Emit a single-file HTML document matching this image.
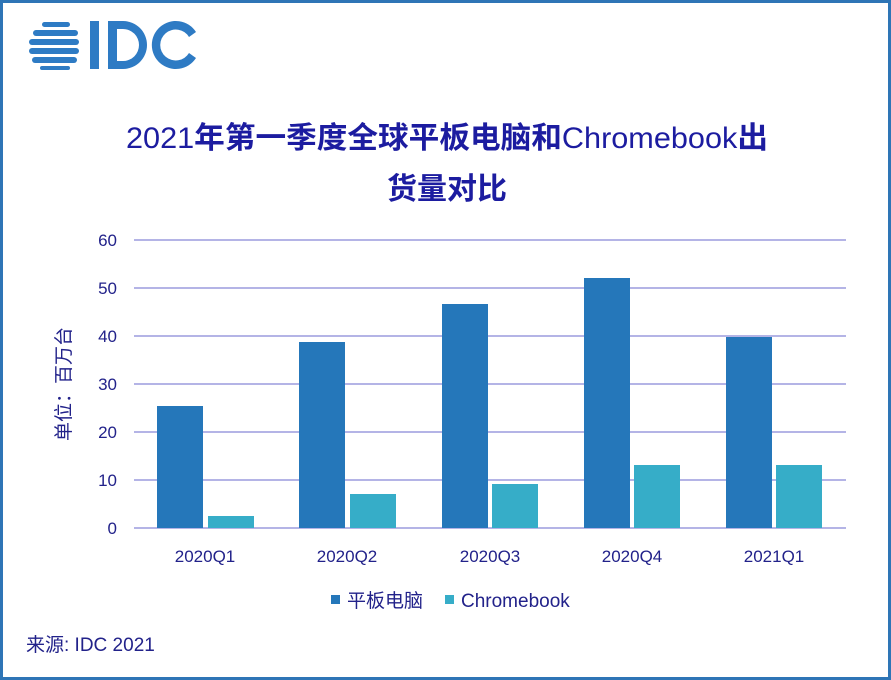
<!DOCTYPE html>
<html><head><meta charset="utf-8"><style>
html,body{margin:0;padding:0;background:#fff;}
svg{display:block;}
text{font-family:"Liberation Sans","Noto Sans CJK SC",sans-serif;}
</style></head><body>
<svg width="891" height="680" viewBox="0 0 891 680" xmlns="http://www.w3.org/2000/svg">
<rect x="1.5" y="1.5" width="888" height="677" fill="#fff" stroke="#2E75B6" stroke-width="3"/>
<g fill="#2E7BC4">
<rect x="42" y="22" width="28" height="5" rx="2.5"/>
<rect x="33" y="30" width="45" height="6" rx="3"/>
<rect x="29" y="39" width="50" height="6" rx="3"/>
<rect x="29" y="48" width="50" height="6" rx="3"/>
<rect x="32" y="57" width="45" height="6" rx="3"/>
<rect x="40" y="66" width="30" height="4" rx="2"/>
<rect x="90" y="21" width="9" height="48"/>
<path d="M108 21h15a24 24 0 0 1 0 48h-15zM117 29v32h6a16 16 0 0 0 0-32z" fill-rule="evenodd"/>
<path d="M196 32a24 24 0 1 0 0 26l-7-5a15.5 15.5 0 1 1 0-16z"/>
</g>
<text x="447" y="148" text-anchor="middle" font-size="30" fill="#1C1CA0" textLength="642" lengthAdjust="spacingAndGlyphs"><tspan>2021</tspan><tspan font-weight="bold">年第一季度全球平板电脑和</tspan><tspan>Chromebook</tspan><tspan font-weight="bold">出</tspan></text>
<text x="447" y="199" text-anchor="middle" font-size="30" font-weight="bold" fill="#1C1CA0">货量对比</text>
<g stroke="#B4B4E6" stroke-width="2">
<line x1="134" y1="240" x2="846" y2="240"/><line x1="134" y1="288" x2="846" y2="288"/>
<line x1="134" y1="336" x2="846" y2="336"/><line x1="134" y1="384" x2="846" y2="384"/>
<line x1="134" y1="432" x2="846" y2="432"/><line x1="134" y1="480" x2="846" y2="480"/>
<line x1="134" y1="528" x2="846" y2="528"/>
</g>
<g font-size="17" fill="#22228A" text-anchor="end">
<text x="117" y="246">60</text><text x="117" y="294">50</text><text x="117" y="342">40</text>
<text x="117" y="390">30</text><text x="117" y="438">20</text><text x="117" y="486">10</text>
<text x="117" y="534">0</text>
</g>
<text transform="translate(70,384) rotate(-90)" text-anchor="middle" font-size="19" fill="#22228A">单位：百万台</text>
<g fill="#2577BA">
<rect x="157" y="406" width="46" height="122"/>
<rect x="299" y="342" width="46" height="186"/>
<rect x="442" y="304" width="46" height="224"/>
<rect x="584" y="278" width="46" height="250"/>
<rect x="726" y="337" width="46" height="191"/>
</g>
<g fill="#36ADC8">
<rect x="208" y="516" width="46" height="12"/>
<rect x="350" y="494" width="46" height="34"/>
<rect x="492" y="484" width="46" height="44"/>
<rect x="634" y="465" width="46" height="63"/>
<rect x="776" y="465" width="46" height="63"/>
</g>
<g font-size="17" fill="#22228A" text-anchor="middle">
<text x="205" y="562">2020Q1</text><text x="347" y="562">2020Q2</text><text x="490" y="562">2020Q3</text>
<text x="632" y="562">2020Q4</text><text x="774" y="562">2021Q1</text>
</g>
<rect x="331" y="595" width="9" height="9" fill="#2577BA"/>
<text x="347" y="607" font-size="19" fill="#22228A">平板电脑</text>
<rect x="445" y="595" width="9" height="9" fill="#36ADC8"/>
<text x="461" y="607" font-size="19" fill="#22228A">Chromebook</text>
<text x="26" y="651" font-size="19" fill="#22228A">来源: IDC 2021</text>
</svg>
</body></html>
